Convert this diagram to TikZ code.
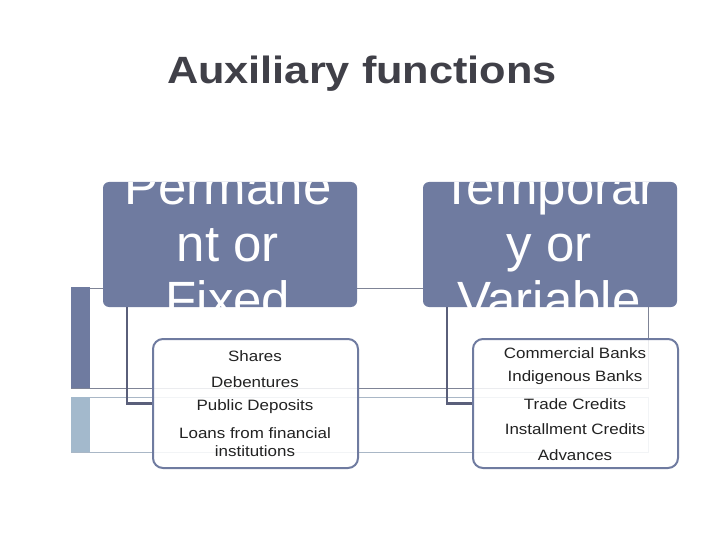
\documentclass[tikz,border=0pt]{standalone}
\usepackage{fontspec}
\setmainfont{Liberation Sans}
\definecolor{slate}{HTML}{6F7BA0}
\definecolor{connc}{HTML}{5A5F7A}
\definecolor{lightbar}{HTML}{A3B9CC}
\definecolor{greyline}{HTML}{7F8496}
\definecolor{paleline}{HTML}{A9B7C6}
\definecolor{titlec}{HTML}{404048}
\definecolor{textc}{HTML}{222222}
\newcommand{\wide}[1]{\scalebox{1.13}[1]{#1}}
\tikzset{
  topbox/.style={fill=slate, rounded corners=6pt, minimum width=254pt, minimum height=125pt, inner sep=0pt},
  toptext/.style={text=white, font=\fontsize{51}{56}\selectfont, anchor=base, inner sep=0pt},
  subbox/.style={draw=slate, line width=2pt, fill=white, fill opacity=0.85, rounded corners=10pt, minimum width=205pt, minimum height=129pt, inner sep=0pt},
  subtext/.style={text=textc, font=\fontsize{15}{18}\selectfont, align=center, inner sep=0pt},
  conn/.style={draw=connc, line width=2.5pt},
}
\begin{document}
\begin{tikzpicture}[x=1pt,y=-1pt]
\useasboundingbox (0,0) rectangle (720,540);
% background decoration
\fill[slate] (71,287) rectangle (90,388);
\fill[lightbar] (71,397) rectangle (90,452);
\draw[greyline, line width=1pt] (90,288) -- (648,288) -- (648,388) -- (71,388);
\draw[paleline, line width=1pt] (90,397) -- (648,397) -- (648,452) -- (71,452);
% title
\node[text=titlec, font=\fontsize{38}{44}\selectfont\bfseries, anchor=base] (title) at (362,84) {\scalebox{1.14}[1]{Auxiliary functions}};
% top boxes
\node[topbox] (perm) at (230,244.5) {};
\node[topbox] (temp) at (550,244.5) {};
\begin{scope}
\clip[rounded corners=6pt] (103,182) rectangle (357,307);
\node[toptext] (p1) at (228,205) {Permane};
\node[toptext] (p2) at (228,261) {nt or};
\node[toptext] (p3) at (228,317) {Fixed};
\end{scope}
\begin{scope}
\clip[rounded corners=6pt] (423,182) rectangle (677,307);
\node[toptext] (t1) at (549,205) {Temporar};
\node[toptext] (t2) at (549,261) {y or};
\node[toptext] (t3) at (549,317) {Variable};
\end{scope}
% sub boxes
\node[subbox] (lbox) at (255.5,403.5) {};
\node[subbox] (rbox) at (575.5,403.5) {};
% connectors
\draw[conn] ([xshift=-103pt]perm.south) |- (lbox.west);
\draw[conn] ([xshift=-103pt]temp.south) |- (rbox.west);
% sub texts
\node[subtext] (s1) at (255,356) {\wide{Shares}};
\node[subtext] (s2) at (255,382) {\wide{Debentures}};
\node[subtext] (s3) at (255,407) {\wide{Public Deposits}};
\node[subtext] (s4) at (255,442) {\wide{Loans from financial}\\\wide{institutions}};
\node[subtext] (r1) at (575,353) {\wide{Commercial Banks}};
\node[subtext] (r2) at (575,378) {\wide{Indigenous Banks}};
\node[subtext] (r3) at (575,404) {\wide{Trade Credits}};
\node[subtext] (r4) at (575,429) {\wide{Installment Credits}};
\node[subtext] (r5) at (575,455) {\wide{Advances}};
\end{tikzpicture}
\end{document}
